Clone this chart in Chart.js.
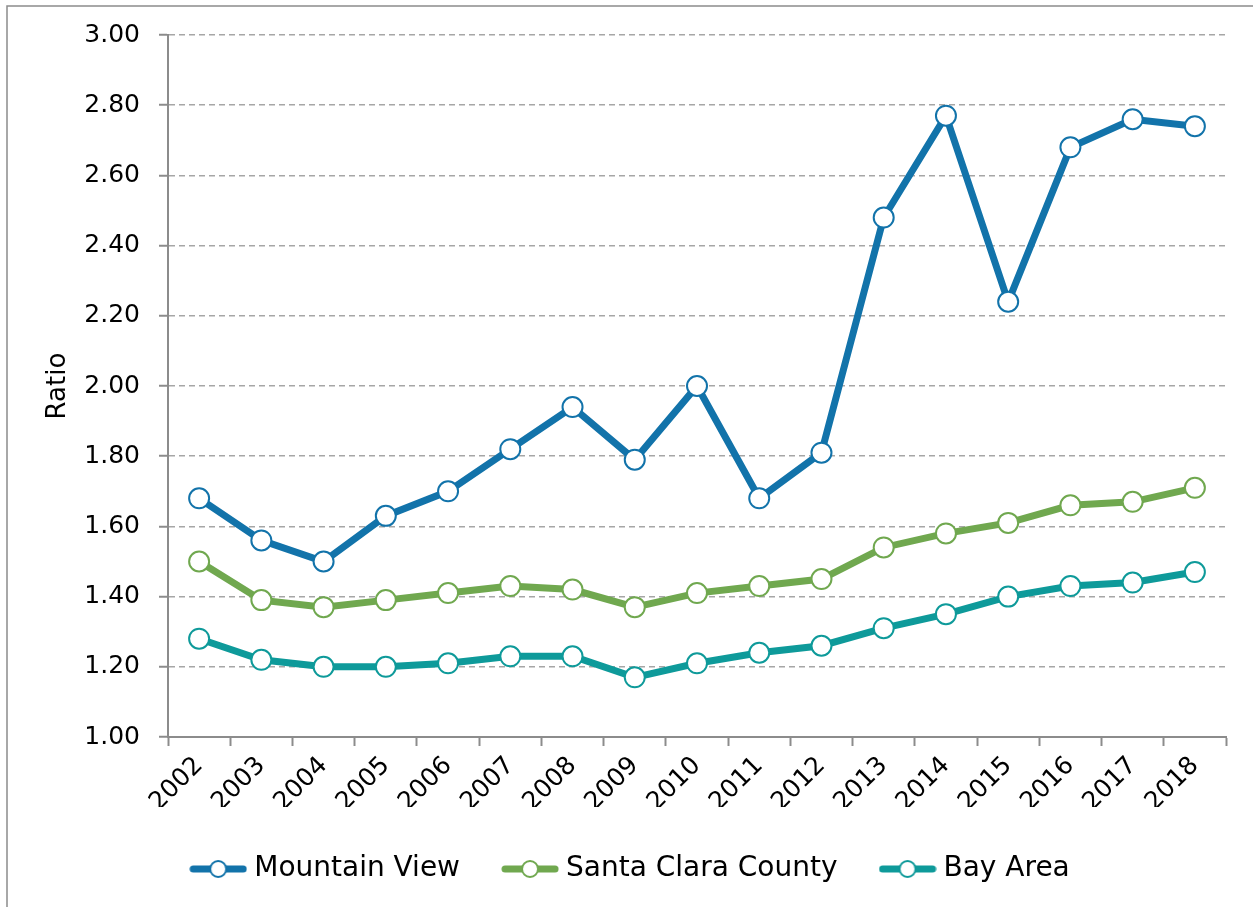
<!DOCTYPE html>
<html>
<head>
<meta charset="utf-8">
<script src="https://cdn.jsdelivr.net/npm/chart.js@4"></script>
<style>
  html, body { margin: 0; padding: 0; background: #fff; }
  #wrap { width: 1253px; height: 907px; position: relative; }
</style>
</head>
<body>
<div id="wrap"><canvas id="grafico"></canvas></div>
<script>
const years = ['2002','2003','2004','2005','2006','2007','2008','2009','2010','2011','2012','2013','2014','2015','2016','2017','2018'];
const mountainView = [1.68, 1.56, 1.50, 1.63, 1.70, 1.82, 1.94, 1.79, 2.00, 1.68, 1.81, 2.48, 2.77, 2.24, 2.68, 2.76, 2.74];
const santaClara = [1.50, 1.39, 1.37, 1.39, 1.41, 1.43, 1.42, 1.37, 1.41, 1.43, 1.45, 1.54, 1.58, 1.61, 1.66, 1.67, 1.71];
const bayArea = [1.28, 1.22, 1.20, 1.20, 1.21, 1.23, 1.23, 1.17, 1.21, 1.24, 1.26, 1.31, 1.35, 1.40, 1.43, 1.44, 1.47];

const fuente = 'DejaVu Sans';

function marcador(color) {
  const c = document.createElement('canvas');
  c.width = 58; c.height = 22;
  const ctx = c.getContext('2d');
  ctx.strokeStyle = color;
  ctx.lineWidth = 7;
  ctx.lineCap = 'round';
  ctx.beginPath(); ctx.moveTo(4, 11); ctx.lineTo(54, 11); ctx.stroke();
  ctx.beginPath(); ctx.arc(29, 11, 8, 0, Math.PI * 2);
  ctx.fillStyle = '#fff'; ctx.fill();
  ctx.lineWidth = 2; ctx.stroke();
  return c;
}

function serie(label, data, color) {
  return {
    label: label,
    data: data,
    borderColor: color,
    backgroundColor: color,
    borderWidth: 7,
    pointRadius: 10,
    pointHoverRadius: 10,
    pointBorderWidth: 2,
    pointBackgroundColor: '#fff',
    pointBorderColor: color,
    pointStyle: 'circle',
    tension: 0
  };
}

const marco = {
  id: 'marco',
  beforeDraw(chart) {
    const ctx = chart.ctx;
    ctx.save();
    ctx.strokeStyle = '#8c8c8c';
    ctx.lineWidth = 1.5;
    ctx.strokeRect(7, 6, 1260, 920);
    ctx.restore();
  }
};

const colores = ['#1273aa', '#70a84f', '#0e9a9a'];

new Chart(document.querySelector('#grafico'), {
  type: 'line',
  data: {
    labels: years,
    datasets: [
      serie('Mountain View', mountainView, colores[0]),
      serie('Santa Clara County', santaClara, colores[1]),
      serie('Bay Area', bayArea, colores[2])
    ]
  },
  options: {
    responsive: true,
    maintainAspectRatio: false,
    animation: false,
    layout: { padding: { left: 40, top: 35, right: 27, bottom: 14 } },
    plugins: {
      legend: {
        position: 'bottom',
        labels: {
          font: { family: fuente, size: 28 },
          color: '#000',
          padding: 48,
          usePointStyle: true,
          pointStyleWidth: 44,
          boxHeight: 20,
          generateLabels(chart) {
            return chart.data.datasets.map((d, i) => ({
              text: d.label,
              pointStyle: marcador(colores[i]),
              fillStyle: colores[i],
              strokeStyle: colores[i],
              lineWidth: 0,
              datasetIndex: i,
              hidden: false
            }));
          }
        }
      },
      tooltip: { enabled: false }
    },
    scales: {
      x: {
        offset: true,
        afterFit(s) { s.height = 70; },
        grid: {
          offset: true,
          drawOnChartArea: false,
          drawTicks: true,
          tickLength: 9,
          tickColor: '#8c8c8c',
          tickWidth: 2
        },
        border: { color: '#8c8c8c', width: 2 },
        ticks: {
          font: { family: fuente, size: 25 },
          color: '#000',
          minRotation: 45,
          maxRotation: 45,
          padding: 5
        }
      },
      y: {
        min: 1,
        max: 3,
        afterFit(s) { s.width = 128; },
        title: {
          display: true,
          text: 'Ratio',
          font: { family: fuente, size: 26 },
          color: '#000',
          padding: { top: 3, bottom: 0 }
        },
        grid: {
          color: '#a6a6a6',
          lineWidth: 1.5,
          tickBorderDash: [],
          tickLength: 9,
          tickColor: '#8c8c8c',
          tickWidth: 2
        },
        border: { color: '#8c8c8c', width: 2, dash: [6, 4] },
        ticks: {
          stepSize: 0.2,
          font: { family: fuente, size: 25 },
          color: '#000',
          padding: 19,
          callback: v => v.toFixed(2)
        }
      }
    }
  },
  plugins: [marco]
});
</script>
</body>
</html>
